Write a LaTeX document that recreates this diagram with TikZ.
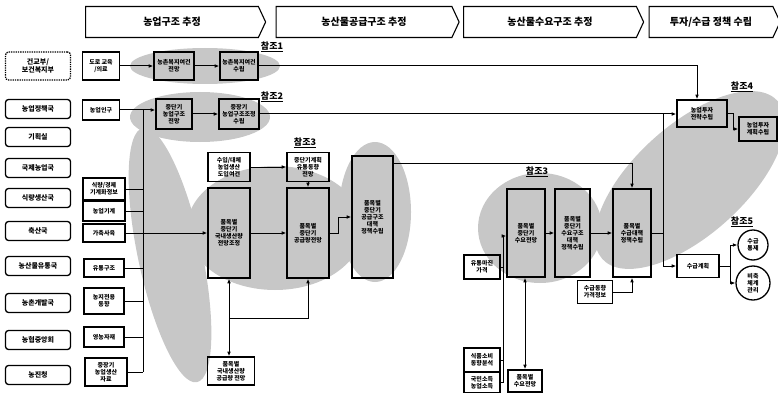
\documentclass[tikz,border=0pt]{standalone}
\usepackage{fontspec}
\setmainfont{Noto Sans CJK KR}
\usetikzlibrary{shapes,shapes.symbols,arrows.meta,positioning}

\begin{document}
\begin{tikzpicture}[
  x=1pt,
  y=-1pt,
  stage/.style={signal, signal to=east, signal pointer angle=130, draw=black, line width=1.1pt, minimum height=31pt, inner sep=0pt, font=\fontsize{10}{11}\selectfont\bfseries},
  agency/.style={draw=black, line width=1.3pt, rounded corners=3pt, align=center, minimum width=65pt, minimum height=19pt, inner sep=1pt, font=\fontsize{7}{8}\selectfont\bfseries},
  data/.style={draw=black, line width=1.2pt, align=center, inner sep=1pt, font=\fontsize{6}{7}\selectfont\bfseries},
  proc/.style={data, line width=1.5pt},
  ring/.style={circle, draw=black, line width=1.3pt, align=center, inner sep=0pt, font=\fontsize{6}{7}\selectfont\bfseries},
  ref/.style={font=\fontsize{9}{10}\selectfont\bfseries},
  blob/.style={fill=black!22, draw=none},
  flow/.style={-{Latex[length=1.6mm,width=1.3mm]}, line width=1pt},
  link/.style={line width=1pt},
  both/.style={{Latex[length=1.6mm,width=1.3mm]}-{Latex[length=1.6mm,width=1.3mm]}, line width=1pt}
]
\useasboundingbox (0,0) rectangle (778,393);

% shaded groups
\fill[blob] (205,66) ellipse [x radius=75, y radius=18];
\fill[blob] (200,117) ellipse [x radius=70, y radius=25];
\fill[blob, rotate around={12:(170,255)}] (170,255) ellipse [x radius=32, y radius=130];
\fill[blob] (275,228) ellipse [x radius=88, y radius=62];
\fill[blob] (375,212) ellipse [x radius=36, y radius=70];
\fill[blob] (540,228) ellipse [x radius=62, y radius=55];
\fill[blob, rotate around={42:(690,180)}] (690,180) ellipse [x radius=118, y radius=55];

% stages
\node[stage, minimum width=180pt] (h1) at (172,22) {농업구조 추정};
\node[stage, minimum width=183pt] (h2) at (364,22) {농산물공급구조 추정};
\node[stage, minimum width=180pt] (h3) at (550,22) {농산물수요구조 추정};
\node[stage, minimum width=131pt] (h4) at (711,22) {투자/수급 정책 수립};

% agencies
\node[agency, densely dotted, minimum height=28pt] (ag1) at (38,66) {건교부/\\보건복지부};
\node[agency] (ag2) at (38,109) {농업정책국};
\node[agency] (ag3) at (38,137) {기획실};
\node[agency] (ag4) at (38,168) {국제농업국};
\node[agency] (ag5) at (38,198) {식량생산국};
\node[agency] (ag6) at (38,231) {축산국};
\node[agency] (ag7) at (38,266) {농산물유통국};
\node[agency] (ag8) at (38,303) {농촌개발국};
\node[agency] (ag9) at (38,340) {농협중앙회};
\node[agency] (ag10) at (38,375) {농진청};

% input data
\node[data, minimum width=37pt, minimum height=28pt] (d1) at (101,66) {도로 교육\\/의료};
\node[data, minimum width=37pt, minimum height=20pt] (d2) at (101,110) {농업인구};
\node[data, minimum width=42pt, minimum height=22pt] (d3) at (104,189) {식량/경제\\기계화정보};
\node[data, minimum width=42pt, minimum height=20pt] (d4) at (104,211) {농업기계};
\node[data, minimum width=42pt, minimum height=18pt] (d5) at (104,233) {가축사육};
\node[data, minimum width=40pt, minimum height=18pt] (d6) at (104,268) {유통구조};
\node[data, minimum width=40pt, minimum height=26pt] (d7) at (104,301) {농지전용\\동향};
\node[data, minimum width=40pt, minimum height=20pt] (d8) at (104,337) {영농자재};
\node[data, minimum width=42pt, minimum height=28pt] (d9) at (106,372) {중장기\\농업생산\\자료};

% farm structure
\node[proc, minimum width=40pt, minimum height=28pt] (t1) at (174,66) {농촌복지여건\\전망};
\node[proc, minimum width=38pt, minimum height=28pt] (t2) at (239,66) {농촌복지여건\\수립};
\node[proc, minimum width=36pt, minimum height=30pt] (t3) at (174,114) {중단기\\농업구조\\전망};
\node[proc, minimum width=40pt, minimum height=30pt] (t4) at (239,114) {중장기\\농업구조조정\\수립};

% supply
\node[proc, minimum width=42pt, minimum height=29pt] (m1) at (229,167) {수입/대체\\농업생산\\도입여건};
\node[proc, minimum width=42pt, minimum height=29pt] (m2) at (308,167) {중단기계획\\유통동향\\전망};
\node[proc, minimum width=42pt, minimum height=90pt] (m3) at (229,233) {품목별\\중단기\\국내생산량\\전망조정};
\node[proc, minimum width=42pt, minimum height=90pt] (m4) at (308,233) {품목별\\중단기\\공급량전망};
\node[proc, minimum width=41pt, minimum height=122pt] (m5) at (372.5,217) {품목별\\중단기\\공급구조\\대책\\정책수립};
\node[proc, minimum width=47pt, minimum height=28pt] (m6) at (231,371) {품목별\\국내생산량\\공급량 전망};

% demand
\node[proc, minimum width=38pt, minimum height=88pt] (r1) at (526,233) {품목별\\중단기\\수요전망};
\node[proc, minimum width=35pt, minimum height=88pt] (r2) at (572.5,233) {품목별\\중단기\\수요구조\\대책\\정책수립};
\node[proc, minimum width=38pt, minimum height=88pt] (r3) at (632,233) {품목별\\수급대책\\정책수립};
\node[data, minimum width=36pt, minimum height=24pt] (r4) at (482,267) {유통마진\\가격};
\node[data, minimum width=36pt, minimum height=24pt] (r5) at (482,360) {식품소비\\동향분석};
\node[data, minimum width=36pt, minimum height=21pt] (r6) at (482,382.5) {국민소득\\농업소득};
\node[proc, minimum width=34pt, minimum height=22pt] (r7) at (525,381) {품목별\\수요전망};
\node[data, minimum width=35pt, minimum height=23pt] (r8) at (595,292) {수급동향\\가격정보};

% policy
\node[proc, minimum width=50pt, minimum height=27pt] (s1) at (702,113.5) {농업투자\\전략수립};
\node[proc, minimum width=38pt, minimum height=24pt] (s2) at (758,129) {농업투자\\계획수립};
\node[proc, minimum width=42pt, minimum height=23pt] (r9) at (698,266) {수급계획};
\node[ring, minimum size=30pt] (c1) at (753,245) {수급\\통제};
\node[ring, minimum size=34pt] (c2) at (753,283) {비축\\체계\\관리};

% references
\node[ref] (ref1) at (272,47) {\underline{참조1}};
\node[ref] (ref2) at (272,97) {\underline{참조2}};
\node[ref] (ref3) at (305,143) {\underline{참조3}};
\node[ref] (ref3b) at (537,172) {\underline{참조3}};
\node[ref] (ref4) at (742,87) {\underline{참조4}};
\node[ref] (ref5) at (742,222) {\underline{참조5}};

% junctions
\coordinate (k6) at (143,110);
\coordinate (k7) at (143,372);
\coordinate (k3) at (663,114);
\coordinate (k2) at (632,163);
\coordinate (k1) at (503,236);
\coordinate (k4) at (730,266);
\coordinate (k5) at (229,318);

% left trunk
\draw[flow] (d1.east) -- (t1.west);
\draw[flow] (t1.east) -- (t2.west);
\draw[flow] (d2.east) -- (d2.east -| t3.west);
\draw[flow] (t3.east) -- (t4.west);
\draw[link] (k6) -- (k7);
\draw[link] (d3.east) -- (d3.east -| k6);
\draw[link] (d4.east) -- (d4.east -| k6);
\draw[link] (d5.east) -- (d5.east -| k6);
\draw[link] (d6.east) -- (d6.east -| k6);
\draw[link] (d7.east) -- (d7.east -| k6);
\draw[link] (d8.east) -- (d8.east -| k6);
\draw[link] (d9.east) -- (d9.east -| k6);
\draw[flow] (k6 |- m3.west) -- (m3.west);

% to policy
\draw[flow] (t2.east) -| ([xshift=-5pt]s1.north);
\draw[flow] (t4.east) -- (t4.east -| s1.west);
\draw[flow] (s1.east) -- ++(6,0) |- (s2.west);
\draw[flow] (k3) |- (r9.west);

% supply chain
\draw[flow] (m1.east) -- (m2.west);
\draw[flow] (m2.south) -- (m4.north);
\draw[flow] (m3.east) -- (m4.west);
\draw[flow] (m4.east) -- ++(9,0) |- (m5.west);
\draw[both] (m3.south) -- (m3.south |- m6.north);
\draw[flow] (k5) -| (m4.south);
\draw[flow] (k2 -| m5.east) -- (k2) -- (r3.north);

% demand chain
\draw[flow] (r6.east) -| (k1) -- (k1 -| r1.west);
\draw[link] (r5.east) -- (r5.east -| k1);
\draw[link] (r4.east) -- (r4.east -| k1);
\draw[both] (r7.north) -- (r7.north |- r1.south);
\draw[flow] (r1.east) -- (r2.west);
\draw[flow] (r2.east) -- (r3.west);
\draw[flow] (r8.east) -| (r3.south);
\draw[link] (r3.east) -- (r3.east -| k3);
\draw[link] (r9.east) -- (k4);
\draw[flow] (k4) |- (c1.west);
\draw[flow] (k4) |- (c2.west);
\end{tikzpicture}
\end{document}
